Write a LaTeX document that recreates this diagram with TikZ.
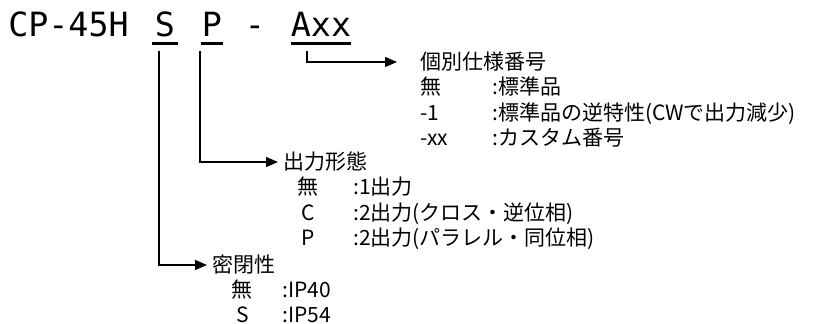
\documentclass[tikz,border=0pt]{standalone}
\usepackage{fontspec}
\setmainfont{Noto Sans CJK JP}
\newfontfamily\codefont{DejaVu Sans Mono}
\usepackage{array}
\usetikzlibrary{arrows.meta,positioning}

\begin{document}
\begin{tikzpicture}[x=0.75pt, y=-0.75pt]
        % Define styles
        \tikzstyle{code} = [font=\codefont\fontsize{25}{28}\selectfont, inner xsep=0.75pt, inner ysep=0pt, anchor=base]
        \tikzstyle{uline} = [line width=2.25pt]
        \tikzstyle{conn} = [line width=0.9pt, -{Triangle[length=9pt,width=7.5pt]}]
        \tikzstyle{head} = [font=\fontsize{15.75}{18.75}\selectfont, inner sep=3.75pt, anchor=west]
        \tikzstyle{list} = [font=\fontsize{15.75}{18.75}\selectfont, inner sep=0pt]

        \useasboundingbox (0,0) rectangle (814,324);

        % Model code
        \node [code, anchor=base west, inner xsep=0pt] (model) at (8,37) {CP-45H};
        \node [code, inner xsep=2.25pt] (S) at (165,37) {S};
        \node [code] (P) at (212,37) {P};
        \node [code] (dash) at (255,37) {-};
        \node [code, inner xsep=0pt] (A) at (321,37) {Axx};

        % Underlines
        \draw [uline] ([yshift=-4.5pt]S.south west) -- ([yshift=-4.5pt]S.south east);
        \draw [uline] ([yshift=-4.5pt]P.south west) -- ([yshift=-4.5pt]P.south east);
        \draw [uline] ([yshift=-4.5pt]A.south west) -- ([yshift=-4.5pt]A.south east);

        % Headings
        \node [head] (spec) at (415,62) {個別仕様番号};
        \node [head] (out) at (278,162) {出力形態};
        \node [head] (seal) at (207,265) {密閉性};

        % Option lists
        \node [list, below right=0pt and 3.75pt of spec.south west] (specList)
            {\begin{tabular}{@{}p{54pt}@{}l@{}}
             無 & :標準品\\
             -1 & :標準品の逆特性(CWで出力減少)\\
             -xx & :カスタム番号
             \end{tabular}};
        \node [list, below right=0pt and 7.5pt of out.south west] (outList)
            {\begin{tabular}{@{}w{c}{30pt}@{\hspace{18.75pt}}l@{}}
             無 & :1出力\\
             C & :2出力(クロス・逆位相)\\
             P & :2出力(パラレル・同位相)
             \end{tabular}};
        \node [list, below right=0pt and 11.25pt of seal.south west] (sealList)
            {\begin{tabular}{@{}w{c}{30pt}@{\hspace{15pt}}l@{}}
             無 & :IP40\\
             S & :IP54
             \end{tabular}};

        % Connectors
        \coordinate (sTop) at ([xshift=-4.5pt, yshift=-10.5pt]S.base);
        \coordinate (pTop) at ([xshift=-9pt, yshift=-10.5pt]P.base);
        \coordinate (aTop) at ([xshift=-10.5pt, yshift=-10.5pt]A.base);
        \draw [conn] (aTop) |- ([xshift=-13.5pt]spec.west);
        \draw [conn] (pTop) |- (out.west);
        \draw [conn] (sTop) |- (seal.west);
\end{tikzpicture}
\end{document}
